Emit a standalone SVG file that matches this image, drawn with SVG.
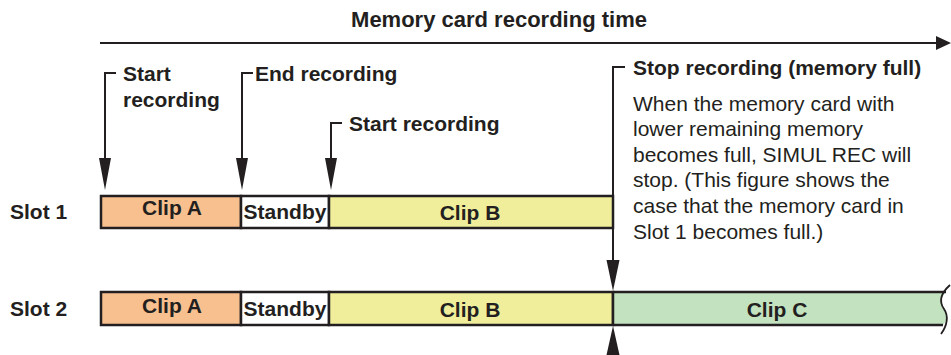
<svg xmlns="http://www.w3.org/2000/svg" width="951" height="355" viewBox="0 0 951 355">
<defs>
<style>
.b{font-family:"Liberation Sans",Arial,sans-serif;font-weight:bold;font-size:21px;fill:#231f20}
.r{font-family:"Liberation Sans",Arial,sans-serif;font-size:21px;fill:#231f20}
.c{text-anchor:middle}
.ln{stroke:#231f20;stroke-width:2;fill:none}
.bar{stroke:#231f20;stroke-width:2.5}
.ah{fill:#231f20}
</style>
</defs>
<rect width="951" height="355" fill="#fff"/>
<g id="axis">
<line class="ln" x1="100" y1="43" x2="938" y2="43"/>
<polygon class="ah" points="951,43 936,36 936,50"/>
<text class="b c" x="499" y="27" style="font-size:22px">Memory card recording time</text>
</g>
<g id="slot1-label"><text class="b" x="10" y="219">Slot 1</text></g>
<g id="slot2-label"><text class="b" x="10" y="316">Slot 2</text></g>
<g id="slot1">
<rect class="bar" x="101" y="196" width="140" height="32" fill="#f8c08f"/>
<rect class="bar" x="241" y="196" width="88" height="32" fill="#ffffff"/>
<rect class="bar" x="329" y="196" width="284" height="32" fill="#f0ee9b"/>
<text class="b c" x="172" y="215">Clip A</text>
<text class="b c" x="285" y="219">Standby</text>
<text class="b c" x="470" y="220">Clip B</text>
</g>
<g id="slot2">
<rect class="bar" x="101" y="292" width="140" height="33" fill="#f8c08f"/>
<rect class="bar" x="241" y="292" width="88" height="33" fill="#ffffff"/>
<rect class="bar" x="329" y="292" width="284" height="33" fill="#f0ee9b"/>
<path d="M613 292 L946 292 C940 298,940 304,944 309 C948 315,947 321,943 325 L613 325 Z" fill="#c3e2c0"/>
<path class="bar" d="M613 292 L946 292 M613 325 L943 325" fill="none"/>
<path d="M950 285 C940 294,939 302,944 309 C949 316,947 326,941 334" fill="none" stroke="#231f20" stroke-width="1.8"/>
<line class="bar" x1="613" y1="292" x2="613" y2="325"/>
<text class="b c" x="172" y="313">Clip A</text>
<text class="b c" x="285" y="316">Standby</text>
<text class="b c" x="470" y="317">Clip B</text>
<text class="b c" x="777" y="317">Clip C</text>
</g>
<g id="connectors">
<path class="ln" d="M116 73 H105 V160"/>
<polygon class="ah" points="105,190 99,158 111,158"/>
<path class="ln" d="M253 73 H242 V160"/>
<polygon class="ah" points="242,190 236,158 248,158"/>
<path class="ln" d="M342 123 H331 V160"/>
<polygon class="ah" points="331,190 325,158 337,158"/>
<path class="ln" d="M625 67 H613 V262"/>
<polygon class="ah" points="613,291 606.5,260 619.5,260"/>
<polygon class="ah" points="613,326 606.5,355 619.5,355"/>
</g>
<g id="label-start1">
<text class="b" x="123" y="81">Start</text>
<text class="b" x="123" y="107">recording</text>
</g>
<g id="label-end"><text class="b" x="255" y="81">End recording</text></g>
<g id="label-start2"><text class="b" x="349" y="131">Start recording</text></g>
<g id="label-stop">
<text class="b" x="633" y="75">Stop recording (memory full)</text>
<text class="r" x="633" y="111">When the memory card with</text>
<text class="r" x="633" y="136">lower remaining memory</text>
<text class="r" x="633" y="162">becomes full, SIMUL REC will</text>
<text class="r" x="633" y="187">stop. (This figure shows the</text>
<text class="r" x="633" y="213">case that the memory card in</text>
<text class="r" x="633" y="239">Slot 1 becomes full.)</text>
</g>
</svg>
